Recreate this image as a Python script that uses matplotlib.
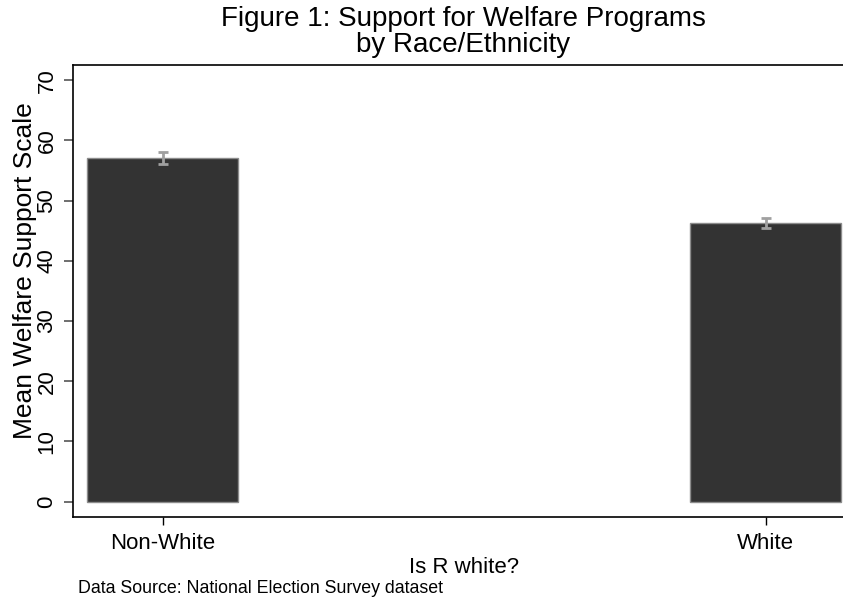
import matplotlib
matplotlib.use("Agg")
from matplotlib import pyplot as plt

plt.rcParams['font.family'] = ['Liberation Sans', 'DejaVu Sans']

groups = ['Non-White', 'White']
means = [57.1, 46.3]
ci_half = [1.0, 0.85]
yticks = [0, 10, 20, 30, 40, 50, 60, 70]

fig = plt.figure(figsize=(8.43, 6.05), dpi=100)
ax = fig.add_axes([0.0862, 0.146, 0.9285, 0.7466])

xpos = list(range(len(groups)))
ax.bar(xpos, means, width=0.25, color='#333333', edgecolor='#8c8c8c',
       linewidth=1.0, zorder=2)
ax.errorbar(xpos, means, yerr=ci_half, fmt='none', ecolor='#a0a0a0',
            elinewidth=2, capsize=3.6, capthick=2, zorder=3)

ax.set_xlim(-0.149, 1.149)
ax.set_ylim(-2.49, 72.54)
ax.set_xticks(xpos)
ax.set_xticklabels(groups, fontsize=16)
ax.set_yticks(yticks)
ax.set_yticklabels([str(t) for t in yticks], fontsize=16, rotation=90,
                   va='center')
ax.tick_params(axis='x', length=6, width=1, color='black', pad=6)
ax.tick_params(axis='y', length=6.5, width=1.2, color='#555555', pad=4.4)

for side in ['top', 'left', 'bottom']:
    ax.spines[side].set_linewidth(1.2)
    ax.spines[side].set_color('black')
ax.spines['right'].set_visible(False)

ax.set_xlabel('Is R white?', fontsize=16, labelpad=2)
ax.set_ylabel('Mean Welfare Support Scale', fontsize=19)
ax.yaxis.set_label_coords(-0.0457, 0.544)

fig.text(463.5 / 843, 1 - 6 / 605,
         'Figure 1: Support for Welfare Programs\nby Race/Ethnicity',
         ha='center', va='top', fontsize=20, linespacing=1.0)
fig.text(78 / 843, 1 - 593 / 605,
         'Data Source: National Election Survey dataset',
         ha='left', va='baseline', fontsize=12.8)

fig.savefig('out.png', dpi=100)
